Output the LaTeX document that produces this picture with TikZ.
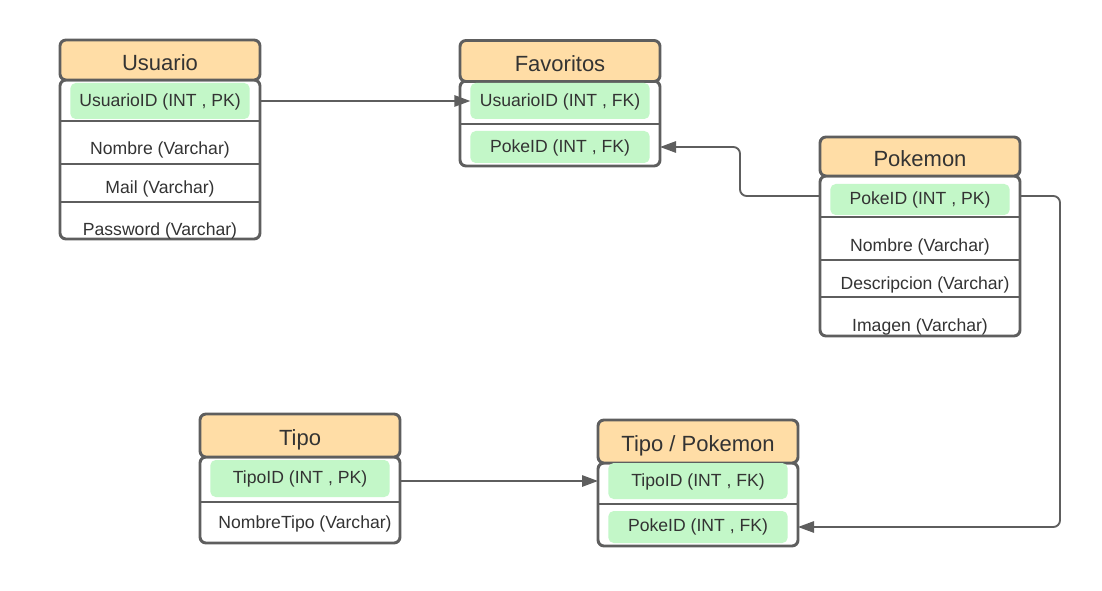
\documentclass[tikz,border=0pt]{standalone}
\usepackage{fontspec}
\setmainfont{Liberation Sans}
\usetikzlibrary{arrows.meta,calc}
\definecolor{hdrc}{HTML}{FFDDA6}
\definecolor{pillc}{HTML}{C3F7C8}
\definecolor{bordc}{HTML}{5E5E5E}
\definecolor{txtc}{HTML}{333333}
\tikzset{
  hdr/.style={draw=bordc, line width=2.2pt, fill=hdrc, rounded corners=4.5pt, inner sep=0pt, outer sep=0pt,
    minimum width=150pt, text=txtc, text height=15.5pt, text depth=0pt, font=\fontsize{16.5}{20}\selectfont},
  tbody/.style={draw=bordc, line width=2.2pt, fill=white, rounded corners=4.5pt, inner sep=0pt, outer sep=0pt,
    minimum width=150pt},
  pill/.style={fill=pillc, rounded corners=4pt, inner sep=0pt, outer sep=0pt, minimum width=134.5pt},
  fld/.style={text=txtc, inner sep=0pt, yshift=-1.5pt, font=\fontsize{13.2}{15}\selectfont},
  sep/.style={draw=bordc, line width=2.2pt},
  conn/.style={draw=bordc, line width=1.4pt, rounded corners=5pt, -{Triangle[length=12pt,width=8.5pt]}}
}
\begin{document}
\begin{tikzpicture}[x=0.75pt,y=-0.75pt]
\useasboundingbox (0,0) rectangle (1102,591);
% ---------- Usuario ----------
\node[tbody, minimum height=119.25pt] (usuB) at (160,159.5) {};
\node[hdr, minimum height=30pt] (usuH) at (160,60) {Usuario};
\node[pill, minimum height=27pt] (usuPK) at (160,101) {};
\draw[sep] (usuB.west |- 0,121) coordinate (u1a) -- (usuB.east |- 0,121) coordinate (u1b);
\draw[sep] (usuB.west |- 0,164) coordinate (u2a) -- (usuB.east |- 0,164) coordinate (u2b);
\draw[sep] (usuB.west |- 0,202) coordinate (u3a) -- (usuB.east |- 0,202) coordinate (u3b);
\node[fld] (usuT1) at (160,100) {UsuarioID (INT , PK)};
\node[fld] (usuT2) at (160,148) {Nombre (Varchar)};
\node[fld] (usuT3) at (160,187) {Mail (Varchar)};
\node[fld] (usuT4) at (160,229) {Password (Varchar)};
% ---------- Favoritos ----------
\node[tbody, minimum height=63.75pt] (favB) at (560,123.5) {};
\node[hdr, minimum height=30.75pt] (favH) at (560,61) {Favoritos};
\node[pill, minimum height=27pt] (favU) at (560,101) {};
\node[pill, minimum height=24pt] (favP) at (560,147) {};
\draw[sep] (favB.west |- 0,124) coordinate (f1a) -- (favB.east |- 0,124) coordinate (f1b);
\node[fld] (favT1) at (560,100) {UsuarioID (INT , FK)};
\node[fld] (favT2) at (560,146) {PokeID (INT , FK)};
% ---------- Pokemon ----------
\node[tbody, minimum height=120pt] (pokB) at (920,256) {};
\node[hdr, minimum height=29.25pt] (pokH) at (920,156.5) {Pokemon};
\node[pill, minimum height=23.25pt] (pokPK) at (920,199.5) {};
\draw[sep] (pokB.west |- 0,217) coordinate (p1a) -- (pokB.east |- 0,217) coordinate (p1b);
\draw[sep] (pokB.west |- 0,260) coordinate (p2a) -- (pokB.east |- 0,260) coordinate (p2b);
\draw[sep] (pokB.west |- 0,297) coordinate (p3a) -- (pokB.east |- 0,297) coordinate (p3b);
\node[fld] (pokT1) at (920,198) {PokeID (INT , PK)};
\node[fld] (pokT2) at (920,245) {Nombre (Varchar)};
\node[fld] (pokT3) at (925,283) {Descripcion (Varchar)};
\node[fld] (pokT4) at (920,325) {Imagen (Varchar)};
% ---------- Tipo ----------
\node[tbody, minimum height=64.5pt] (tipB) at (300,500) {};
\node[hdr, minimum height=32.25pt] (tipH) at (300,435.5) {Tipo};
\node[pill, minimum height=27.75pt] (tipPK) at (300,478.5) {};
\draw[sep] (tipB.west |- 0,502) coordinate (t1a) -- (tipB.east |- 0,502) coordinate (t1b);
\node[fld] (tipT1) at (300,477) {TipoID (INT , PK)};
\node[fld] (tipT2) at (305,522) {NombreTipo (Varchar)};
% ---------- Tipo / Pokemon ----------
\node[tbody, minimum height=62.25pt] (tpB) at (698,504.5) {};
\node[hdr, minimum height=32.25pt] (tpH) at (698,441.5) {Tipo / Pokemon};
\node[pill, minimum height=27pt] (tpT) at (698,481) {};
\node[pill, minimum height=24pt] (tpP) at (698,527) {};
\draw[sep] (tpB.west |- 0,504) coordinate (tp1a) -- (tpB.east |- 0,504) coordinate (tp1b);
\node[fld] (tpT1) at (698,480) {TipoID (INT , FK)};
\node[fld] (tpT2) at (698,525) {PokeID (INT , FK)};
% ---------- Connectors ----------
\draw[conn] (usuB.east |- usuPK) -- (favU.west |- usuPK);
\draw[conn] (pokB.west |- 0,196) -- ++(-80,0) |- (favB.east |- favP);
\draw[conn] (pokB.east |- 0,196) -- ++(40,0) |- (tpB.east |- tpP);
\draw[conn] (tipB.east |- tpT) -- (tpB.west |- tpT);
\end{tikzpicture}
\end{document}
